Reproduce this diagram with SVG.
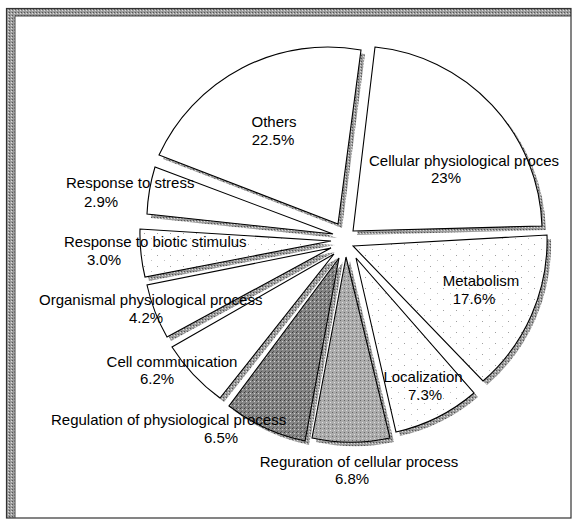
<svg xmlns="http://www.w3.org/2000/svg" width="574" height="521" viewBox="0 0 574 521">
<defs>
<pattern id="dots" width="13" height="11" patternUnits="userSpaceOnUse">
<rect width="13" height="11" fill="#fff"/>
<rect x="1" y="2" width="1" height="1" fill="#a0a0a0"/>
<rect x="8" y="7" width="1" height="1" fill="#c0c0c0"/>
</pattern>
<pattern id="dark" width="4" height="4" patternUnits="userSpaceOnUse">
<rect width="4" height="4" fill="#858585"/>
<rect x="0" y="0" width="1" height="1" fill="#3a3a3a"/>
<rect x="2" y="1" width="1" height="1" fill="#cfcfcf"/>
<rect x="1" y="3" width="1" height="1" fill="#555"/>
</pattern>
<pattern id="mid" width="4" height="4" patternUnits="userSpaceOnUse">
<rect width="4" height="4" fill="#ababab"/>
<rect x="0" y="0" width="1" height="1" fill="#666"/>
<rect x="2" y="2" width="1" height="1" fill="#e0e0e0"/>
</pattern>
<pattern id="shade" width="3" height="3" patternUnits="userSpaceOnUse">
<rect width="3" height="3" fill="#9c9c9c"/>
<rect x="0" y="0" width="1" height="1" fill="#555"/>
<rect x="2" y="1" width="1" height="1" fill="#ddd"/>
</pattern>
</defs>
<style>
.sh{fill:url(#shade);stroke:none}
.s{stroke:#000;stroke-width:1.1;stroke-linejoin:miter}
.w{fill:#fff}
.d{fill:url(#dots)}
.lbl{font-family:"Liberation Sans",Arial,sans-serif;font-size:15px;fill:#000}
</style>
<rect x="0" y="0" width="574" height="521" fill="#fff"/>
<g id="frame">
<rect x="6" y="8" width="9" height="510" fill="url(#shade)"/>
<rect x="6" y="8" width="565" height="8" fill="url(#shade)"/>
<rect x="6.5" y="8.5" width="564.5" height="509.5" fill="none" stroke="#333" stroke-width="1.2"/>
<path d="M15 518 V16 H571" fill="none" stroke="#444" stroke-width="1"/>
</g>
<g id="shadows" transform="translate(4,4)">
<path class="sh" d="M338 224 L159 155 A186 186 0 0 1 361 50 Z"/>
<path class="sh" d="M353 231 L375 47 A186 186 0 0 1 542 226 Z"/>
<path class="sh" d="M353 246 L547 235 A186 186 0 0 1 483 381 Z"/>
<path class="sh" d="M356 258 L474 393 A180 180 0 0 1 396 432 Z"/>
<path class="sh" d="M346 257 L390 438 A186 186 0 0 1 312 438 Z"/>
<path class="sh" d="M339 258 L305 441 A186 186 0 0 1 229 406 Z"/>
<path class="sh" d="M334 254 L220 398 A186 186 0 0 1 172 347 Z"/>
<path class="sh" d="M331 248 L167 337 A186 186 0 0 1 147 285 Z"/>
<path class="sh" d="M331 241 L145 277 A186 186 0 0 1 140 229 Z"/>
<path class="sh" d="M333 234 L147 214 A186 186 0 0 1 155 167 Z"/>
</g>
<g id="others"><path class="s w" d="M338 224 L159 155 A186 186 0 0 1 361 50 Z"/></g>
<g id="cellular"><path class="s w" d="M353 231 L375 47 A186 186 0 0 1 542 226 Z"/></g>
<g id="metabolism"><path class="s d" d="M353 246 L547 235 A186 186 0 0 1 483 381 Z"/></g>
<g id="localization"><path class="s d" d="M356 258 L474 393 A180 180 0 0 1 396 432 Z"/></g>
<g id="reg-cellular"><path class="s" fill="url(#mid)" d="M346 257 L390 438 A186 186 0 0 1 312 438 Z"/></g>
<g id="reg-physiological"><path class="s" fill="url(#dark)" d="M339 258 L305 441 A186 186 0 0 1 229 406 Z"/></g>
<g id="cell-communication"><path class="s w" d="M334 254 L220 398 A186 186 0 0 1 172 347 Z"/></g>
<g id="organismal"><path class="s w" d="M331 248 L167 337 A186 186 0 0 1 147 285 Z"/></g>
<g id="biotic"><path class="s d" d="M331 241 L145 277 A186 186 0 0 1 140 229 Z"/></g>
<g id="stress"><path class="s w" d="M333 234 L147 214 A186 186 0 0 1 155 167 Z"/></g>
<g id="labels" class="lbl">
<text class="lbl" x="274" y="127" text-anchor="middle">Others</text>
<text class="lbl" x="273" y="145" text-anchor="middle">22.5%</text>
<text class="lbl" x="369" y="166">Cellular physiological proces</text>
<text class="lbl" x="446" y="183" text-anchor="middle">23%</text>
<text class="lbl" x="481" y="286" text-anchor="middle">Metabolism</text>
<text class="lbl" x="474" y="304" text-anchor="middle">17.6%</text>
<text class="lbl" x="423" y="382" text-anchor="middle">Localization</text>
<text class="lbl" x="425" y="400" text-anchor="middle">7.3%</text>
<text class="lbl" x="359" y="467" text-anchor="middle">Reguration of cellular process</text>
<text class="lbl" x="352" y="484" text-anchor="middle">6.8%</text>
<text class="lbl" x="51" y="425">Regulation of physiological process</text>
<text class="lbl" x="221" y="443" text-anchor="middle">6.5%</text>
<text class="lbl" x="172" y="367" text-anchor="middle">Cell communication</text>
<text class="lbl" x="157" y="384" text-anchor="middle">6.2%</text>
<text class="lbl" x="39" y="305">Organismal physiological process</text>
<text class="lbl" x="146" y="323" text-anchor="middle">4.2%</text>
<text class="lbl" x="64" y="247">Response to biotic stimulus</text>
<text class="lbl" x="104" y="265" text-anchor="middle">3.0%</text>
<text class="lbl" x="66" y="188">Response to stress</text>
<text class="lbl" x="101" y="207" text-anchor="middle">2.9%</text>
</g>
</svg>
